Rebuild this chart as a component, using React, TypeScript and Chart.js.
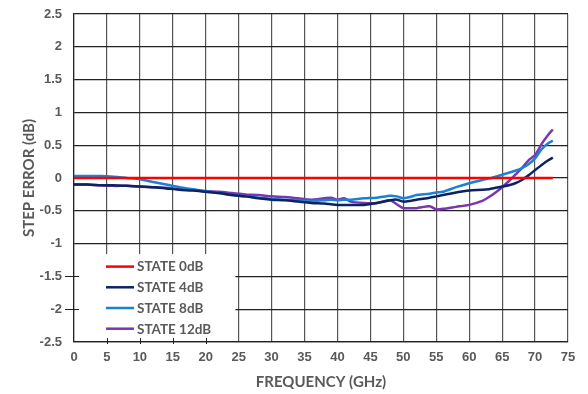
import React, { useEffect, useRef } from "react";
import { Chart, registerables } from "chart.js";

Chart.register(...registerables);

const freqs = [0, 2, 4, 6, 8, 10, 12, 14, 16, 18, 20, 22, 24, 26, 28, 30, 32, 34, 36, 38, 39, 40, 41, 42, 44, 46, 48, 49, 50, 51, 52, 54, 55, 56, 58, 60, 62, 63, 64, 65, 66, 67, 68, 69, 70, 71, 72, 72.7];

const state0dB = freqs.map(() => 0);

const state4dB = [-0.10, -0.10, -0.11, -0.11, -0.12, -0.13, -0.14, -0.16, -0.18, -0.19, -0.21, -0.23, -0.26, -0.28, -0.31, -0.33, -0.34, -0.36, -0.38, -0.39, -0.40, -0.41, -0.41, -0.41, -0.41, -0.38, -0.34, -0.33, -0.36, -0.35, -0.33, -0.30, -0.28, -0.26, -0.22, -0.19, -0.18, -0.17, -0.15, -0.13, -0.11, -0.08, -0.03, 0.04, 0.12, 0.20, 0.27, 0.31];

const state8dB = [0.03, 0.03, 0.03, 0.02, 0.0, -0.02, -0.06, -0.10, -0.14, -0.17, -0.20, -0.23, -0.26, -0.28, -0.30, -0.32, -0.33, -0.34, -0.35, -0.34, -0.33, -0.34, -0.33, -0.33, -0.31, -0.30, -0.27, -0.28, -0.31, -0.29, -0.26, -0.24, -0.22, -0.21, -0.14, -0.08, -0.03, -0.01, 0.02, 0.05, 0.08, 0.11, 0.15, 0.21, 0.30, 0.44, 0.53, 0.57];

const state12dB = [-0.10, -0.10, -0.11, -0.12, -0.12, -0.13, -0.14, -0.15, -0.17, -0.18, -0.20, -0.21, -0.23, -0.25, -0.26, -0.28, -0.29, -0.31, -0.33, -0.31, -0.30, -0.33, -0.31, -0.36, -0.38, -0.38, -0.34, -0.40, -0.46, -0.46, -0.46, -0.43, -0.48, -0.47, -0.44, -0.41, -0.35, -0.29, -0.22, -0.14, -0.05, 0.05, 0.15, 0.27, 0.35, 0.52, 0.66, 0.74];

const seriesNames = ["STATE 0dB", "STATE 4dB", "STATE 8dB", "STATE 12dB"];
const seriesValues = [state0dB, state4dB, state8dB, state12dB];
const seriesColors = ["#FF0000", "#0B2364", "#1A82D2", "#7B35B0"];

const xTitle = "FREQUENCY (GHz)";
const yTitle = "STEP ERROR (dB)";

const TICK_COLOR = "#595959";

const insetLegend = {
  id: "insetLegend",
  afterDatasetsDraw(chart: any) {
    const { ctx, chartArea, scales } = chart;
    const xs = scales.x;
    const ys = scales.y;
    const left = chartArea.left + 1;
    const right = xs.getPixelForValue(24.5);
    const top = ys.getPixelForValue(-1.16);
    const bottom = chartArea.bottom - 1;
    ctx.save();
    ctx.fillStyle = "#ffffff";
    ctx.fillRect(left, top, right - left, bottom - top);
    ctx.strokeStyle = "#222";
    ctx.lineWidth = 1;
    [-1.5, -2].forEach((v) => {
      const py = Math.round(ys.getPixelForValue(v)) + 0.5;
      ctx.beginPath();
      ctx.moveTo(chartArea.left - 9, py);
      ctx.lineTo(chartArea.left + 5, py);
      ctx.stroke();
    });
    [5, 10, 15, 20].forEach((v) => {
      const px = Math.round(xs.getPixelForValue(v)) + 0.5;
      ctx.beginPath();
      ctx.moveTo(px, chartArea.bottom - 4);
      ctx.lineTo(px, chartArea.bottom + 2);
      ctx.stroke();
    });
    const lx = left + 31;
    const rowH = 20.7;
    const y0 = top + 12.5;
    ctx.font = "bold 13.5px Lato, 'Open Sans', sans-serif";
    ctx.textBaseline = "middle";
    ctx.textAlign = "left";
    seriesNames.forEach((name, i) => {
      const y = y0 + i * rowH;
      ctx.strokeStyle = seriesColors[i];
      ctx.lineWidth = 2.5;
      ctx.beginPath();
      ctx.moveTo(lx, y);
      ctx.lineTo(lx + 28, y);
      ctx.stroke();
      ctx.fillStyle = TICK_COLOR;
      ctx.fillText(name, lx + 31, y + 0.5);
    });
    ctx.restore();
  },
};

export default function App() {
  const ref = useRef<HTMLCanvasElement | null>(null);

  useEffect(() => {
    if (!ref.current) return;
    const chart = new Chart(ref.current, {
      type: "line",
      data: {
        datasets: seriesNames.map((name, i) => ({
          label: name,
          data: freqs.map((f, j) => ({ x: f, y: seriesValues[i][j] })),
          borderColor: seriesColors[i],
          backgroundColor: seriesColors[i],
          borderWidth: 2.5,
          pointRadius: 0,
          tension: 0.25,
          fill: false,
        })),
      },
      options: {
        responsive: false,
        animation: false,
        layout: { padding: { top: 14, right: 20, left: 0, bottom: 0 } },
        plugins: {
          legend: { display: false },
          tooltip: { enabled: false },
        },
        scales: {
          x: {
            type: "linear",
            min: 0,
            max: 75,
            ticks: {
              stepSize: 5,
              color: TICK_COLOR,
              padding: 8,
              font: { family: "'Liberation Sans', Arial, sans-serif", size: 13, weight: "bold" },
              callback: (v: any) => String(v),
            },
            grid: { color: "#555555", lineWidth: 1.2, drawTicks: false },
            border: { color: "#222222", width: 1.2 },
            title: {
              display: true,
              text: xTitle,
              color: TICK_COLOR,
              padding: { top: 0, bottom: 3 },
              font: { family: "Lato, 'Open Sans', sans-serif", size: 15, weight: "bold" },
            },
            afterFit: (s: any) => {
              s.height = 52;
              s.paddingLeft = 0;
              s.paddingRight = 0;
            },
          },
          y: {
            min: -2.5,
            max: 2.5,
            ticks: {
              stepSize: 0.5,
              color: TICK_COLOR,
              padding: 12,
              font: { family: "'Liberation Sans', Arial, sans-serif", size: 13, weight: "bold" },
              callback: (v: any) => String(Math.round(Number(v) * 10) / 10),
            },
            grid: { color: "#222222", lineWidth: 1.2, drawTicks: false },
            border: { color: "#222222", width: 1.2 },
            title: {
              display: true,
              text: yTitle,
              color: TICK_COLOR,
              padding: { top: 20, bottom: 0 },
              font: { family: "Lato, 'Open Sans', sans-serif", size: 15, weight: "bold" },
            },
            afterFit: (s: any) => {
              s.width = 74;
              s.paddingTop = 0;
              s.paddingBottom = 0;
            },
          },
        },
      },
      plugins: [insetLegend],
    });
    return () => chart.destroy();
  }, []);

  return (
    <div style={{ position: "absolute", left: 0, top: 0, width: 588, height: 394, background: "#fff" }}>
      <canvas ref={ref} width={588} height={394} />
    </div>
  );
}
